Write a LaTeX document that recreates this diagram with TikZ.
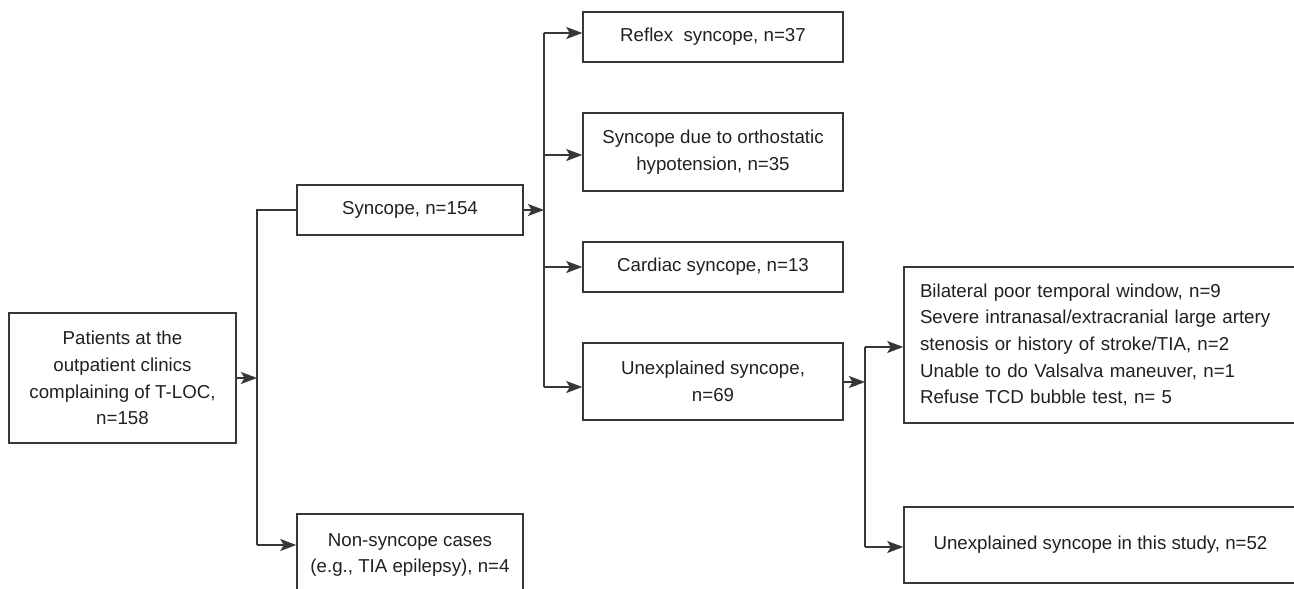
\documentclass[tikz,border=0pt]{standalone}
\usepackage{fontspec}
\setmainfont{Liberation Sans}
\usetikzlibrary{arrows.meta}
\definecolor{edgec}{RGB}{55,55,55}
\definecolor{txtc}{RGB}{35,31,32}
\begin{document}
\begin{tikzpicture}[x=1pt,y=-1pt,
  box/.style={draw=edgec, line width=1.5pt, inner sep=0pt, align=center, text=txtc,
    font=\fontsize{18.7}{26.7}\selectfont},
  conn/.style={draw=edgec, line width=1.4pt},
  arr/.style={conn, -{Stealth[length=16pt,width=12pt,inset=3.5pt]}}]
\useasboundingbox (0,0) rectangle (1294,589);

% boxes
\node[box, minimum width=227pt, minimum height=130pt] (pat) at (122.5,378)
  {Patients at the\\outpatient clinics\\complaining of T-LOC,\\n=158};
\node[box, minimum width=226pt, minimum height=50pt] (syn) at (410,210) {Syncope, n=154};
\node[box, minimum width=226pt, minimum height=82pt] (non) at (410,555)
  {Non-syncope cases\\(e.g., TIA epilepsy), n=4};
\node[box, minimum width=260pt, minimum height=50pt] (ref) at (713,37) {Reflex\ \ syncope, n=37};
\node[box, minimum width=260pt, minimum height=78pt] (ort) at (713,152)
  {Syncope due to orthostatic\\hypotension, n=35};
\node[box, minimum width=260pt, minimum height=50pt] (car) at (713,267) {Cardiac syncope, n=13};
\node[box, minimum width=260pt, minimum height=77pt] (unx) at (713,381.5)
  {Unexplained syncope,\\n=69};
\node[box, align=left, minimum width=393pt, text width=361pt, inner xsep=16pt, minimum height=156pt] (exc) at (1100.5,345)
  {Bilateral poor temporal window, n=9\\
   Severe intranasal/extracranial large artery\\
   stenosis or history of stroke/TIA, n=2\\
   Unable to do Valsalva maneuver, n=1\\
   Refuse TCD bubble test, n= 5};
\node[box, minimum width=393pt, minimum height=76pt] (fin) at (1100.5,545)
  {Unexplained syncope in this study, n=52};

% junction 1
\coordinate (j1m) at (257,378);
\coordinate (j1t) at (257,210);
\coordinate (j1b) at (257,545);
\draw[arr] (pat.east) -- (j1m);
\draw[conn] (syn.west) -- (j1t) -- (j1b);
\draw[arr] (j1b) -- (j1b -| non.west);

% junction 2
\coordinate (j2m) at (544,210);
\coordinate (b1) at (544,33);
\coordinate (b2) at (544,155);
\coordinate (b3) at (544,267);
\coordinate (b4) at (544,387);
\draw[arr] (syn.east) -- (j2m);
\draw[conn] (b1) -- (b4);
\draw[arr] (b1) -- (b1 -| ref.west);
\draw[arr] (b2) -- (b2 -| ort.west);
\draw[arr] (b3) -- (b3 -| car.west);
\draw[arr] (b4) -- (b4 -| unx.west);

% junction 3
\coordinate (j3m) at (865,382);
\coordinate (c1) at (865,347);
\coordinate (c2) at (865,547);
\draw[arr] (unx.east |- j3m) -- (j3m);
\draw[conn] (c1) -- (c2);
\draw[arr] (c1) -- (c1 -| exc.west);
\draw[arr] (c2) -- (c2 -| fin.west);
\end{tikzpicture}
\end{document}
